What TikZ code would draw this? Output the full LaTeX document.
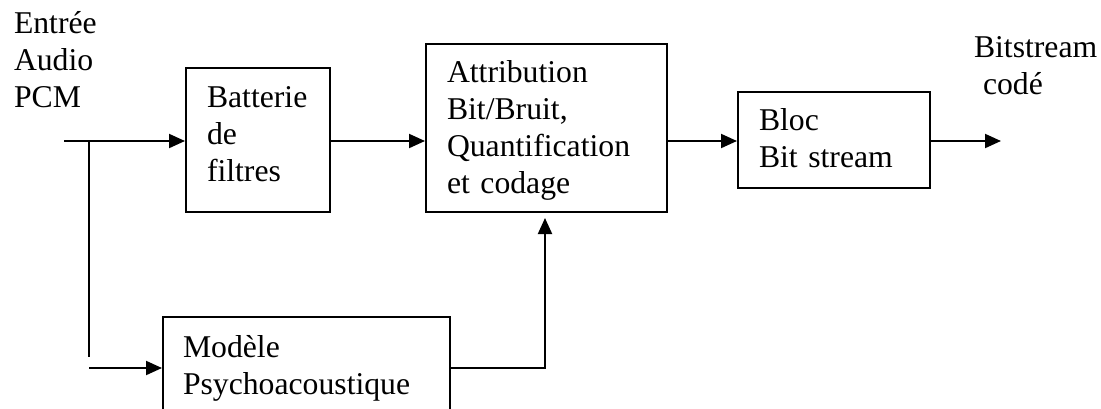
\documentclass[tikz,border=0pt]{standalone}
\usepackage{fontspec}
\setmainfont{Liberation Serif}
\usetikzlibrary{arrows.meta}

\begin{document}
\begin{tikzpicture}[x=1pt,y=-1pt,
  line width=2pt,
  blockbox/.style={draw, rectangle, inner sep=0pt, anchor=north west},
  blocktext/.style={anchor=base west, inner sep=0pt, text width=300pt, align=left,
    font=\fontsize{31.7}{37}\selectfont},
  flow/.style={-{Triangle[length=16pt,width=14pt]}}]

  \useasboundingbox (0,0) rectangle (1101,408);

  % processing blocks
  \node[blockbox, minimum width=144pt, minimum height=144pt] (bat) at (185,67) {};
  \node[blockbox, minimum width=241pt, minimum height=168pt] (attr) at (425,43) {};
  \node[blockbox, minimum width=192pt, minimum height=96pt] (bloc) at (737,91) {};
  \node[blockbox, minimum width=287pt, minimum height=104pt] (psy) at (162,316) {};

  % block captions
  \node[blocktext] (batT) at (206,107) {Batterie\\de\\filtres};
  \node[blocktext] (attrT) at (446,82) {Attribution\\Bit/Bruit,\\Quantification\\et codage};
  \node[blocktext] (blocT) at (758,130) {Bloc\\Bit stream};
  \node[blocktext] (psyT) at (182,357) {Modèle\\Psychoacoustique};

  % input and output labels
  \node[blocktext] (inT) at (13,33) {Entrée\\Audio\\PCM};
  \node[blocktext] (outT) at (973,57) {Bitstream\\\hspace*{9pt}codé};

  % connector end points
  \coordinate (in) at (64,141);
  \coordinate (split) at (89,141);
  \coordinate (splitend) at (89,357);
  \coordinate (low) at (89,368);
  \coordinate (turn) at (545,368);
  \coordinate (out) at (1001,141);

  % signal path
  \draw[flow] (in) -- (in -| bat.west);
  \draw[flow] (bat.east |- in) -- (attr.west |- in);
  \draw[flow] (attr.east |- in) -- (bloc.west |- in);
  \draw[flow] (bloc.east |- in) -- (out);

  % side chain through the psychoacoustic model
  \draw (split) -- (splitend);
  \draw[flow] (low) -- (low -| psy.west);
  \draw[flow, shorten >=5pt] (psy.east |- low) -- (turn) -- (turn |- attr.south);
\end{tikzpicture}
\end{document}
